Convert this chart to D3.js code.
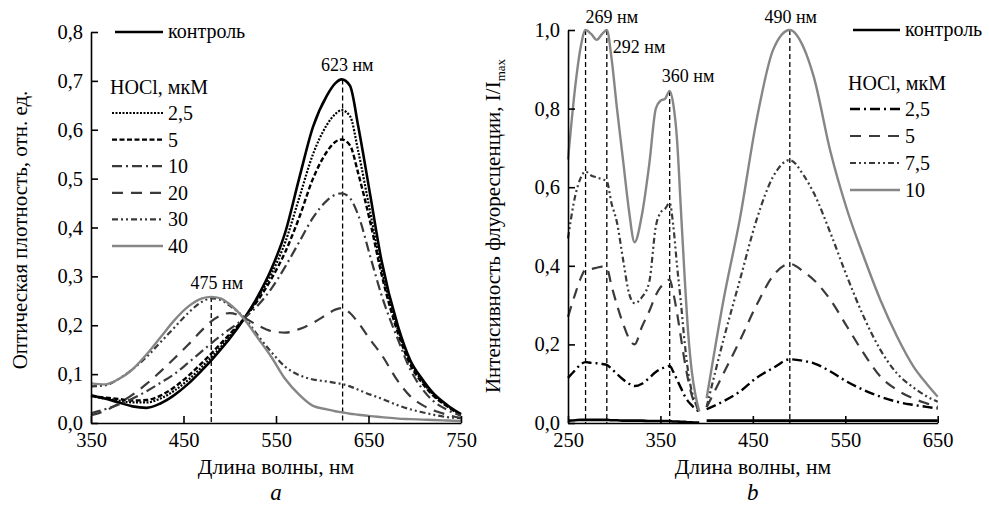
<!DOCTYPE html>
<html>
<head>
<meta charset="utf-8">
<script src="https://cdn.jsdelivr.net/npm/d3@7"></script>
<style>
  body { margin: 0; background: #fff; }
  svg { font-family: "Liberation Serif", "Times New Roman", serif; }
</style>
</head>
<body>
<div id="d3"></div>
<script>
// ---- panel a: absorption spectra ----
const waveA = [350, 365, 380, 395, 410, 425, 440, 455, 470, 480, 490, 500, 516, 530, 545, 560, 575, 590, 605, 614, 621, 630, 639, 652, 664, 682, 695, 708, 720, 735, 750];
const controlA = [.057, .050, .042, .034, .031, .040, .057, .080, .108, .128, .150, .173, .215, .258, .315, .39, .50, .606, .67, .695, .703, .69, .606, .465, .333, .197, .129, .090, .061, .037, .018];
const hocl2_5A = [.055, .050, .046, .042, .042, .050, .066, .088, .115, .135, .155, .178, .215, .255, .305, .37, .46, .55, .61, .632, .64, .628, .555, .43, .315, .19, .125, .086, .058, .035, .017];
const hocl5A = [.055, .052, .049, .046, .047, .056, .073, .096, .123, .142, .162, .182, .215, .25, .295, .35, .42, .50, .555, .575, .58, .568, .51, .41, .305, .183, .12, .082, .056, .034, .016];
const hocl10A = [.020, .028, .038, .050, .065, .082, .100, .123, .147, .163, .178, .192, .215, .24, .275, .32, .37, .42, .455, .467, .47, .46, .425, .34, .262, .17, .11, .07, .045, .027, .015];
const hocl20A = [.016, .025, .040, .058, .080, .105, .132, .160, .190, .208, .220, .225, .215, .200, .188, .185, .192, .205, .222, .232, .235, .225, .205, .17, .14, .085, .055, .037, .026, .017, .01];
const hocl30A = [.075, .077, .090, .110, .135, .165, .195, .225, .248, .255, .252, .240, .215, .18, .145, .115, .098, .089, .085, .082, .080, .075, .068, .058, .050, .036, .028, .022, .017, .012, .01];
const hocl40A = [.081, .079, .090, .110, .140, .175, .210, .238, .255, .258, .255, .243, .212, .175, .135, .09, .058, .035, .028, .024, .022, .019, .017, .014, .012, .009, .008, .007, .006, .005, .004];
const legendA = ["2,5", "5", "10", "20", "30", "40"];
const xTicksA = [350, 450, 550, 650, 750];
const yTicksA = [0, 0.1, 0.2, 0.3, 0.4, 0.5, 0.6, 0.7, 0.8];
const peaksA = [480, 622];
const peakTopsA = [0.258, 0.703];
const peakLabelsA = ["475 нм", "623 нм"];
const labelPosA = [[486, 0.274], [627, 0.72]];

// ---- panel b: fluorescence spectra (excitation | emission) ----
const waveB1 = [250, 258, 264, 269, 275, 281, 287, 292, 297, 303, 310, 316, 322, 330, 338, 345, 350, 355, 360, 364, 368, 372, 376, 380, 384, 388, 392];
const waveB2 = [400, 418, 436, 454, 472, 490, 505, 516, 534, 552, 570, 588, 606, 624, 638, 650];
const controlB1 = [.006, .007, .008, .008, .008, .008, .008, .008, .007, .007, .006, .006, .006, .006, .005, .005, .005, .005, .005, .004, .004, .003, .003, .002, .002, .001, .001];
const controlB2 = [.006, .006, .006, .006, .006, .006, .006, .006, .006, .006, .006, .006, .006, .006, .006, .006];
const hocl2_5B1 = [.115, .135, .15, .155, .153, .152, .15, .148, .138, .125, .11, .10, .094, .10, .115, .13, .137, .142, .145, .13, .11, .09, .07, .055, .045, .035, .03];
const hocl2_5B2 = [.035, .055, .08, .115, .14, .162, .158, .152, .131, .105, .084, .067, .054, .046, .041, .037];
const hocl5B1 = [.27, .33, .37, .39, .392, .395, .398, .395, .35, .30, .25, .215, .20, .245, .285, .325, .345, .355, .365, .33, .28, .22, .16, .11, .07, .045, .03];
const hocl5B2 = [.04, .125, .21, .30, .375, .405, .385, .364, .313, .245, .177, .118, .084, .062, .05, .041];
const hocl7_5B1 = [.47, .58, .625, .64, .63, .625, .62, .615, .56, .51, .41, .33, .305, .32, .36, .50, .535, .545, .56, .50, .40, .31, .21, .13, .08, .05, .03];
const hocl7_5B2 = [.041, .21, .364, .517, .627, .669, .63, .585, .483, .372, .27, .186, .126, .09, .068, .054];
const hocl10B1 = [.67, .86, .96, 1.0, .99, .975, .99, 1.0, .93, .80, .66, .54, .46, .53, .66, .80, .82, .825, .845, .81, .72, .55, .38, .23, .13, .07, .03];
const hocl10B2 = [.063, .31, .52, .77, .95, 1.0, .955, .88, .69, .542, .423, .313, .22, .143, .10, .067];
const legendB = ["2,5", "5", "7,5", "10"];
const xTicksB = [250, 350, 450, 550, 650];
const yTicksB = [0, 0.2, 0.4, 0.6, 0.8, 1.0];
const peaksB = [269, 292, 360, 490];
const peakTopsB = [1.0, 1.0, 0.845, 1.0];
const peakLabelsB = ["269 нм", "292 нм", "360 нм", "490 нм"];
const labelPosB = [[269, 1.018], [298.5, 0.942], [351.5, 0.868], [462.5, 1.017]];

// line looks
const solidBlack = { stroke: "#000", width: 2.6, dash: null };
const dotted = { stroke: "#000", width: 2.2, dash: "2,1.5" };
const shortDash = { stroke: "#000", width: 2.4, dash: "5,2.5" };
const dashDot = { stroke: "#3a3a3a", width: 2.2, dash: "10,4,2,4" };
const dashDotBlack = { stroke: "#000", width: 2.4, dash: "10,4,2,4" };
const longDash = { stroke: "#3a3a3a", width: 2.2, dash: "11,8" };
const dashDotDot = { stroke: "#3a3a3a", width: 2.2, dash: "6,3,2,3,2,3" };
const solidGray = { stroke: "#868686", width: 2.4, dash: null };

const width = 989;
const height = 512;

const svg = d3.select("#d3").append("svg")
  .attr("width", width)
  .attr("height", height);

const comma = v => d3.format(".1f")(v).replace(".", ",");

function drawPanel(p) {
  const x = d3.scaleLinear().domain(p.xDomain).range(p.xRange);
  const y = d3.scaleLinear().domain(p.yDomain).range(p.yRange);
  const g = svg.append("g");

  // dashed peak markers
  g.selectAll(".peak")
    .data(p.peaks)
    .enter()
    .append("line")
    .attr("x1", d => x(d))
    .attr("x2", d => x(d))
    .attr("y1", (d, i) => y(p.peakTops[i]))
    .attr("y2", y(0))
    .attr("stroke", "#000")
    .attr("stroke-width", 1.3)
    .attr("stroke-dasharray", "5,3");

  const line = d3.line()
    .x(d => x(d[0]))
    .y(d => y(d[1]))
    .curve(d3.curveMonotoneX);

  p.series.forEach(s => {
    g.append("path")
      .attr("d", line(d3.zip(s.wave, s.values)))
      .attr("fill", "none")
      .attr("stroke", s.style.stroke)
      .attr("stroke-width", s.style.width)
      .attr("stroke-dasharray", s.style.dash)
      .attr("stroke-linejoin", "round");
  });

  const xAxis = g.append("g")
    .attr("transform", `translate(0, ${y(0)})`)
    .call(d3.axisBottom(x).tickValues(p.xTicks).tickSizeInner(-7).tickSizeOuter(0).tickPadding(9));
  const yAxis = g.append("g")
    .attr("transform", `translate(${x(p.xDomain[0])}, 0)`)
    .call(d3.axisLeft(y).tickValues(p.yTicks).tickFormat(comma).tickSizeInner(-7).tickSizeOuter(0).tickPadding(8));

  [xAxis, yAxis].forEach(a => {
    a.attr("font-family", null).attr("font-size", 20.5);
    a.selectAll("path, line").attr("stroke", "#000").attr("stroke-width", 1.6);
    a.selectAll("text").attr("fill", "#000");
  });
  xAxis.selectAll("text").attr("dy", "0.75em");

  // peak annotations
  g.selectAll(".plabel")
    .data(p.peakLabels)
    .enter()
    .append("text")
    .attr("x", (d, i) => x(p.labelPos[i][0]))
    .attr("y", (d, i) => y(p.labelPos[i][1]))
    .attr("text-anchor", p.labelAnchor)
    .attr("font-size", 18)
    .text(d => d);

  // axis titles
  g.append("text")
    .attr("x", (p.xRange[0] + p.xRange[1]) / 2)
    .attr("y", 474)
    .attr("text-anchor", "middle")
    .attr("font-size", 21.5)
    .text("Длина волны, нм");

  g.append("text")
    .attr("x", (p.xRange[0] + p.xRange[1]) / 2)
    .attr("y", 500)
    .attr("text-anchor", "middle")
    .attr("font-size", 23)
    .attr("font-style", "italic")
    .text(p.tag);

  const yt = g.append("text")
    .attr("transform", `translate(${p.yTitleX}, ${p.yTitleY}) rotate(-90)`)
    .attr("text-anchor", "middle")
    .attr("font-size", 21)
    .text(p.yTitle);
  if (p.yTitleSub) {
    yt.append("tspan")
      .attr("font-size", 13)
      .attr("dy", 5)
      .text(p.yTitleSub);
  }

  // legend
  const lg = g.append("g").attr("font-size", 20);
  lg.append("line")
    .attr("x1", p.legX0 + 3).attr("x2", p.legX1)
    .attr("y1", p.legTop).attr("y2", p.legTop)
    .attr("stroke", solidBlack.stroke).attr("stroke-width", solidBlack.width);
  lg.append("text")
    .attr("x", p.legX1 + 5).attr("y", p.legTop + 6)
    .text("контроль");
  lg.append("text")
    .attr("x", p.legX0 - 2).attr("y", p.legHead + 7)
    .text("HOCl, мкМ");
  const items = lg.selectAll(".item")
    .data(p.legend)
    .enter()
    .append("g")
    .attr("transform", (d, i) => `translate(0, ${p.legFirst + i * p.legStep})`);
  items.append("line")
    .attr("x1", p.legX0).attr("x2", p.legX1)
    .attr("stroke", (d, i) => p.series[i + 1].style.stroke)
    .attr("stroke-width", (d, i) => p.series[i + 1].style.width)
    .attr("stroke-dasharray", (d, i) => p.series[i + 1].style.dash);
  items.append("text")
    .attr("x", p.legX1 + 5).attr("y", 7)
    .text(d => d);
}

drawPanel({
  xDomain: [350, 750], xRange: [91, 461],
  yDomain: [0, 0.8], yRange: [423, 32],
  xTicks: xTicksA, yTicks: yTicksA,
  peaks: peaksA, peakTops: peakTopsA, peakLabels: peakLabelsA, labelPos: labelPosA, labelAnchor: "middle",
  tag: "a",
  yTitle: "Оптическая плотность, отн. ед.", yTitleX: 27, yTitleY: 230,
  legX0: 112, legX1: 163, legTop: 32, legHead: 87, legFirst: 113, legStep: 26.6,
  legend: legendA,
  series: [
    { wave: waveA, values: controlA, style: solidBlack },
    { wave: waveA, values: hocl2_5A, style: dotted },
    { wave: waveA, values: hocl5A, style: shortDash },
    { wave: waveA, values: hocl10A, style: dashDot },
    { wave: waveA, values: hocl20A, style: longDash },
    { wave: waveA, values: hocl30A, style: dashDotDot },
    { wave: waveA, values: hocl40A, style: solidGray }
  ]
});

drawPanel({
  xDomain: [250, 650], xRange: [568, 937.7],
  yDomain: [0, 1.0], yRange: [423, 30],
  xTicks: xTicksB, yTicks: yTicksB,
  peaks: peaksB, peakTops: peakTopsB, peakLabels: peakLabelsB, labelPos: labelPosB, labelAnchor: "start",
  tag: "b",
  yTitle: "Интенсивность флуоресценции, I/I", yTitleSub: "max", yTitleX: 500, yTitleY: 226,
  legX0: 850, legX1: 900, legTop: 30, legHead: 83, legFirst: 109, legStep: 27,
  legend: legendB,
  series: [
    { wave: waveB1, values: controlB1, style: solidBlack },
    { wave: waveB1, values: hocl2_5B1, style: dashDotBlack },
    { wave: waveB1, values: hocl5B1, style: longDash },
    { wave: waveB1, values: hocl7_5B1, style: dashDotDot },
    { wave: waveB1, values: hocl10B1, style: solidGray },
    { wave: waveB2, values: controlB2, style: solidBlack },
    { wave: waveB2, values: hocl2_5B2, style: dashDotBlack },
    { wave: waveB2, values: hocl5B2, style: longDash },
    { wave: waveB2, values: hocl7_5B2, style: dashDotDot },
    { wave: waveB2, values: hocl10B2, style: solidGray }
  ]
});
</script>
</body>
</html>
